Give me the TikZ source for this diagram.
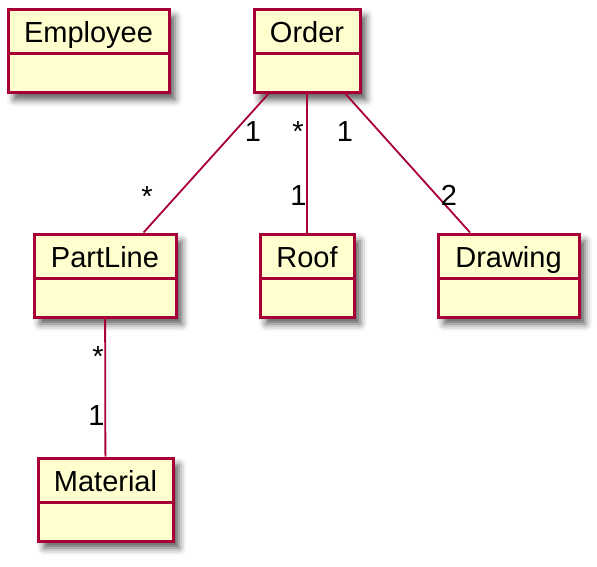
\documentclass[tikz,border=0pt]{standalone}
\usepackage{fontspec}
\setmainfont{Liberation Sans}
\usepackage{tikz}
\usetikzlibrary{calc,shadows.blur}
\definecolor{umlFill}{HTML}{FEFECE}
\definecolor{umlBorder}{HTML}{A80036}

\begin{document}
\begin{tikzpicture}[
  x=1pt, y=-1pt,
  every node/.style={font=\fontsize{29}{34}\selectfont},
  classbox/.style={draw=umlBorder, fill=umlFill, line width=3pt, minimum height=83, inner sep=0pt,
    blur shadow={shadow xshift=6pt, shadow yshift=-7pt, shadow blur radius=7pt, shadow opacity=65}},
  classname/.style={anchor=base, inner sep=0pt},
  assoc/.style={draw=umlBorder, line width=1.8pt},
  mult/.style={anchor=base, inner sep=0pt},
]
\useasboundingbox (0,0) rectangle (597,567);

% Classes: name/label/centre x/top y/width
\foreach \n/\lab/\x/\y/\w in {employee/Employee/88.5/8/161, order/Order/307/8/106,
    partline/PartLine/105/232.5/142, roof/Roof/307/232.5/94, drawing/Drawing/508.5/232.5/141,
    material/Material/105.5/456.5/135} {
  \node[classbox, minimum width=\w, anchor=north] (\n) at (\x,\y) {};
  \node[classname] (\n-name) at ($(\n.north)+(0,35)$) {\lab};
  \draw[umlBorder, line width=3pt] ($(\n.north west)+(0,46)$) -- ($(\n.north east)+(0,46)$);
}

% Associations
\draw[assoc] (order) -- (partline);
\draw[assoc] (order) -- (roof);
\draw[assoc] (order) -- (drawing);
\draw[assoc] (partline) -- (material);

% Multiplicities
\node[mult] (m-op-1) at (253,142) {1};
\node[mult] (m-op-2) at (147,206) {*};
\node[mult] (m-or-1) at (298,142) {*};
\node[mult] (m-or-2) at (298.5,205) {1};
\node[mult] (m-od-1) at (345,142) {1};
\node[mult] (m-od-2) at (449,205) {2};
\node[mult] (m-pm-1) at (98,366) {*};
\node[mult] (m-pm-2) at (96.5,425) {1};
\end{tikzpicture}
\end{document}
